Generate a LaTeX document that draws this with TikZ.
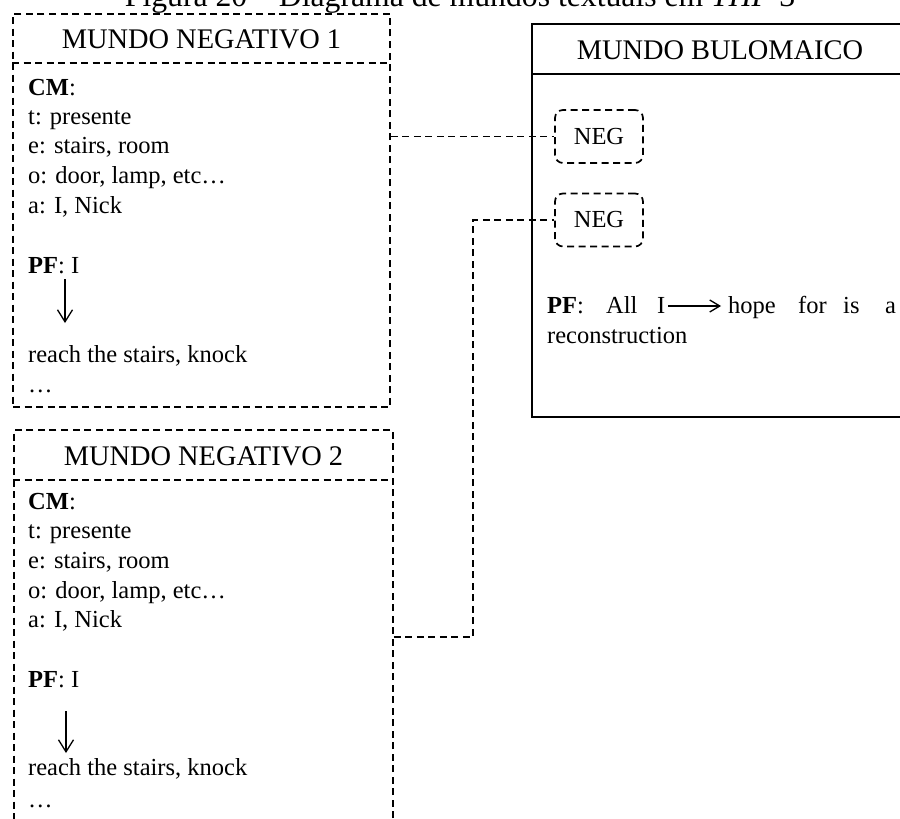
\documentclass[tikz,border=0pt]{standalone}
\usepackage{fontspec}
\setmainfont{Liberation Serif}
\usetikzlibrary{arrows.meta}
\begin{document}
\begin{tikzpicture}[x=1pt,y=-1pt,
  dbox/.style={draw, line width=1.7pt, dash pattern=on 7pt off 4.5pt, inner sep=0pt},
  sbox/.style={draw, line width=1.7pt, inner sep=0pt},
  body/.style={anchor=base west, inner sep=0pt, font=\fontsize{24.5}{29}\selectfont},
  head/.style={anchor=base, inner sep=0pt, font=\fontsize{28.4}{33}\selectfont},
  conn/.style={line width=1.7pt, dash pattern=on 7pt off 4.5pt},
  varr/.style={line width=1.3pt, -{Straight Barb[length=12pt,width=15pt,line width=1.3pt]}},
  harr/.style={line width=1.3pt, -{Straight Barb[length=10pt,width=12pt,line width=1.3pt]}}
]
\useasboundingbox (0,0) rectangle (900,819);
\clip (0,0) rectangle (900,819);

% title (cut off at top, as in the reference)
\node[anchor=base, inner sep=0pt, font=\fontsize{31.7}{36}\selectfont] (title) at (460,6)
  {Figura 20 – Diagrama de mundos textuais em \textit{THF} 3};

% ---------- MUNDO NEGATIVO 1 ----------
\node[dbox, minimum width=377pt, minimum height=393pt] (mn1) at (201.5,210.5) {};
\coordinate (h1) at (0,63);
\draw[conn] (mn1.west |- h1) -- (mn1.east |- h1);
\node[head] (mn1t) at (201.5,48) {MUNDO NEGATIVO 1};
\node[body] (a1) at (28,95) {\textbf{CM}:};
\node[body] (a2) at (28,124) {t: presente};
\node[body] (a3) at (28,153) {e: stairs, room};
\node[body] (a4) at (28,183) {o: door, lamp, etc…};
\node[body] (a5) at (28,213) {a: I, Nick};
\node[body] (a6) at (28,273) {\textbf{PF}: I};
\coordinate (a1s) at (65,279);
\coordinate (a1e) at (65,323);
\draw[varr] (a1s) -- (a1e);
\node[body] (a7) at (28,362) {reach the stairs, knock};
\node[body] (a8) at (28,392) {…};

% ---------- MUNDO NEGATIVO 2 ----------
\node[dbox, minimum width=379pt, minimum height=400pt] (mn2) at (203.5,630) {};
\coordinate (h3) at (0,480);
\draw[conn] (mn2.west |- h3) -- (mn2.east |- h3);
\node[head] (mn2t) at (203.5,465) {MUNDO NEGATIVO 2};
\node[body] (b1) at (28,509) {\textbf{CM}:};
\node[body] (b2) at (28,538) {t: presente};
\node[body] (b3) at (28,568) {e: stairs, room};
\node[body] (b4) at (28,598) {o: door, lamp, etc…};
\node[body] (b5) at (28,627) {a: I, Nick};
\node[body] (b6) at (28,687) {\textbf{PF}: I};
\coordinate (b1s) at (66,711);
\coordinate (b1e) at (66,753);
\draw[varr] (b1s) -- (b1e);
\node[body] (b7) at (28,775) {reach the stairs, knock};
\node[body] (b8) at (28,807) {…};

% ---------- MUNDO BULOMAICO ----------
\node[sbox, minimum width=376pt, minimum height=393pt] (bul) at (720,220.5) {};
\coordinate (h2) at (0,74);
\draw[line width=1.7pt] (bul.west |- h2) -- (bul.east |- h2);
\node[head] (bult) at (720,59) {MUNDO BULOMAICO};

\node[dbox, rounded corners=8pt, minimum width=88pt, minimum height=53pt,
      font=\fontsize{24.5}{29}\selectfont] (neg1) at (599,136.5) {NEG};
\node[dbox, rounded corners=8pt, minimum width=88pt, minimum height=53pt,
      font=\fontsize{24.5}{29}\selectfont] (neg2) at (599,220) {NEG};

\node[body] (c1) at (547,313) {\textbf{PF}:};
\node[body] (c2w) at (606,313) {All};
\node[body] (c3) at (657,313) {I};
\coordinate (cs) at (668,306);
\coordinate (ce) at (721,306);
\draw[harr] (cs) -- (ce);
\node[body] (c4) at (728,313) {hope};
\node[body] (c5) at (798,313) {for};
\node[body] (c6) at (843,313) {is};
\node[body] (c7) at (885,313) {a};
\node[body] (c8) at (547,343) {reconstruction};

% ---------- connectors ----------
\draw[conn] (mn1.east |- neg1.west) -- (neg1.west);
\coordinate (k2) at (473,637);
\draw[conn] (mn2.east |- k2) -- (k2) |- (neg2.west);
\end{tikzpicture}
\end{document}
